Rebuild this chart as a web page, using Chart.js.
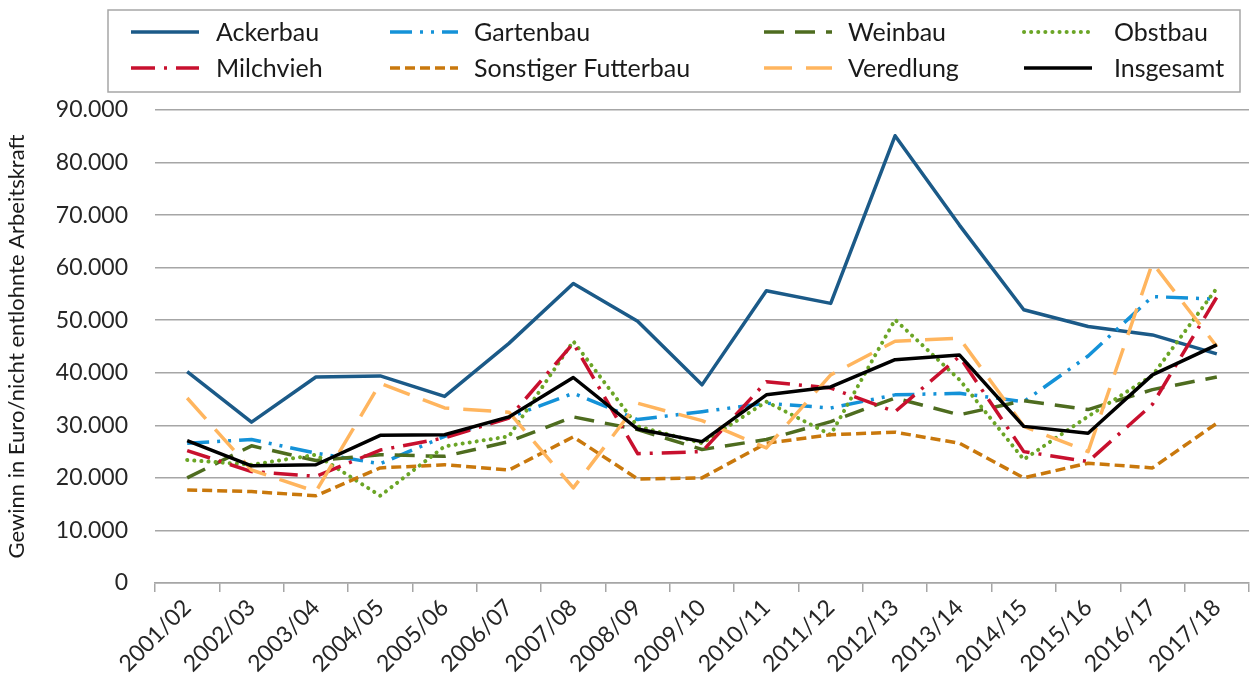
<!DOCTYPE html>
<html>
<head>
<meta charset="utf-8">
<script src="https://cdn.jsdelivr.net/npm/chart.js@4.4.1/dist/chart.umd.min.js"></script>
<style>
  html, body { margin: 0; padding: 0; background: #ffffff; }
  #wrap { width: 1250px; height: 686px; }
</style>
</head>
<body>
<div id="wrap"><canvas id="c" width="1250" height="686"></canvas></div>
<script>
// ---- Data (Euro je nicht entlohnte Arbeitskraft) ----
const categories = ["2001/02","2002/03","2003/04","2004/05","2005/06","2006/07","2007/08","2008/09","2009/10","2010/11","2011/12","2012/13","2013/14","2014/15","2015/16","2016/17","2017/18"];

const ackerbau   = [40200, 30600, 39200, 39400, 35500, 45600, 57000, 49800, 37700, 55600, 53200, 85100, 68100, 52000, 48800, 47200, 43600];
const gartenbau  = [26600, 27300, 24700, 22700, 27900, 31500, 36100, 31100, 32600, 34200, 33300, 35800, 36100, 34500, 43200, 54500, 54000];
const weinbau    = [20000, 26100, 23300, 24400, 24100, 26900, 31600, 29200, 25400, 27300, 30700, 35200, 32000, 34700, 33000, 36800, 39200];
const obstbau    = [23400, 22500, 24400, 16600, 26000, 27900, 46000, 29800, 26600, 34500, 28200, 50100, 38700, 23500, 31700, 39500, 56100];
const milchvieh  = [25200, 21200, 20300, 25300, 27600, 31400, 45600, 24600, 25000, 38300, 37100, 32600, 43100, 25000, 23100, 34000, 54400];
const sonstiger  = [17700, 17400, 16600, 21900, 22500, 21500, 27800, 19800, 20000, 26600, 28200, 28700, 26600, 20000, 22800, 21900, 30400];
const veredlung  = [35200, 21500, 17400, 38000, 33300, 32500, 18100, 34200, 30900, 25700, 39600, 46000, 46600, 29800, 25000, 60900, 45000];
const insgesamt  = [27100, 22300, 22500, 28100, 28200, 31600, 39100, 29300, 26900, 35800, 37300, 42500, 43400, 29800, 28500, 39600, 45300];

const yTicks = [0, 10000, 20000, 30000, 40000, 50000, 60000, 70000, 80000, 90000];
const yTitle = "Gewinn in Euro/nicht entlohnte Arbeitskraft";

// ---- Styles ----
const FONT = "Lato, 'Open Sans', sans-serif";
const series = [
  { label: "Ackerbau",            data: ackerbau,  color: "#1B5A88", dash: [],                  cap: "butt",  w: 3.5, order: 8 },
  { label: "Gartenbau",           data: gartenbau, color: "#1492D8", dash: [22, 8, 3, 8, 3, 8], cap: "butt",  w: 3.5, order: 7 },
  { label: "Weinbau",             data: weinbau,   color: "#4E6C1F", dash: [20, 11],            cap: "butt",  w: 3.5, order: 6 },
  { label: "Obstbau",             data: obstbau,   color: "#6BA526", dash: [0.1, 7],            cap: "round", w: 4,   order: 5 },
  { label: "Milchvieh",           data: milchvieh, color: "#C8102E", dash: [24, 9, 3, 9],       cap: "butt",  w: 3.5, order: 4 },
  { label: "Sonstiger Futterbau", data: sonstiger, color: "#C9780C", dash: [10, 5],             cap: "butt",  w: 3.5, order: 3 },
  { label: "Veredlung",           data: veredlung, color: "#FFB55E", dash: [28, 14],            cap: "butt",  w: 3.5, order: 2 },
  { label: "Insgesamt",           data: insgesamt, color: "#000000", dash: [],                  cap: "butt",  w: 3.5, order: 1 }
];

function fmt(v) {
  return String(v).replace(/\B(?=(\d{3})+(?!\d))/g, ".");
}

// ---- Custom grid legend (4 columns x 2 rows) ----
const legendBox = { left: 108, top: 10, right: 1240, bottom: 92 };
const legendCols = [{ line: 131, text: 216 }, { line: 390, text: 474 }, { line: 764, text: 848 }, { line: 1024, text: 1114 }];
const legendRows = [32, 68];
const gridLegend = {
  id: "gridLegend",
  afterDraw(chart) {
    const ctx = chart.ctx;
    ctx.save();
    ctx.lineWidth = 1.5;
    ctx.strokeStyle = "#A6A6A6";
    ctx.setLineDash([]);
    ctx.strokeRect(legendBox.left, legendBox.top, legendBox.right - legendBox.left, legendBox.bottom - legendBox.top);
    chart.data.datasets.forEach((ds, i) => {
      const col = legendCols[i % 4];
      const y = legendRows[Math.floor(i / 4)];
      ctx.beginPath();
      ctx.setLineDash(ds.borderDash || []);
      ctx.lineCap = ds.borderCapStyle || "butt";
      ctx.lineWidth = ds.borderWidth;
      ctx.strokeStyle = ds.borderColor;
      ctx.moveTo(col.line, y);
      ctx.lineTo(col.line + 68, y);
      ctx.stroke();
      ctx.setLineDash([]);
      ctx.fillStyle = "#1a1a1a";
      ctx.font = "25px " + FONT;
      ctx.textBaseline = "middle";
      ctx.textAlign = "left";
      ctx.fillText(ds.label, col.text, y + 1);
    });
    ctx.restore();
  }
};

const chart = new Chart(document.getElementById("c"), {
  type: "line",
  data: {
    labels: categories,
    datasets: series.map(s => ({
      label: s.label,
      data: s.data,
      borderColor: s.color,
      backgroundColor: s.color,
      borderWidth: s.w,
      borderDash: s.dash,
      borderCapStyle: s.cap,
      borderJoinStyle: "round",
      pointRadius: 0,
      pointHoverRadius: 0,
      tension: 0,
      fill: false,
      order: s.order
    }))
  },
  options: {
    responsive: false,
    animation: false,
    devicePixelRatio: 1,
    layout: { padding: { top: 110, right: 1, left: 4, bottom: 0 } },
    plugins: {
      legend: { display: false },
      tooltip: { enabled: false },
      title: { display: false }
    },
    scales: {
      x: {
        type: "category",
        offset: true,
        grid: { offset: true, drawOnChartArea: false, drawTicks: true, tickLength: 9, color: "#A6A6A6", lineWidth: 1.5 },
        border: { display: true, color: "#A6A6A6", width: 1.5 },
        ticks: { autoSkip: false, maxRotation: 45, minRotation: 45, color: "#262626", font: { family: FONT, size: 23 }, padding: 2 },
        afterFit(scale) { scale.height = 103; }
      },
      y: {
        min: 0,
        max: 90000,
        afterBuildTicks(scale) { scale.ticks = yTicks.map(v => ({ value: v })); },
        grid: { drawTicks: false, color: "#A6A6A6", lineWidth: 1.5 },
        border: { display: false },
        ticks: { padding: 27, color: "#262626", font: { family: FONT, size: 23 }, callback: (v) => fmt(v) },
        title: { display: true, text: yTitle, color: "#1a1a1a", font: { family: FONT, size: 22 }, padding: { top: 0, bottom: 0 } },
        afterFit(scale) { scale.width = 151; }
      }
    }
  },
  plugins: [gridLegend]
});
</script>
</body>
</html>
